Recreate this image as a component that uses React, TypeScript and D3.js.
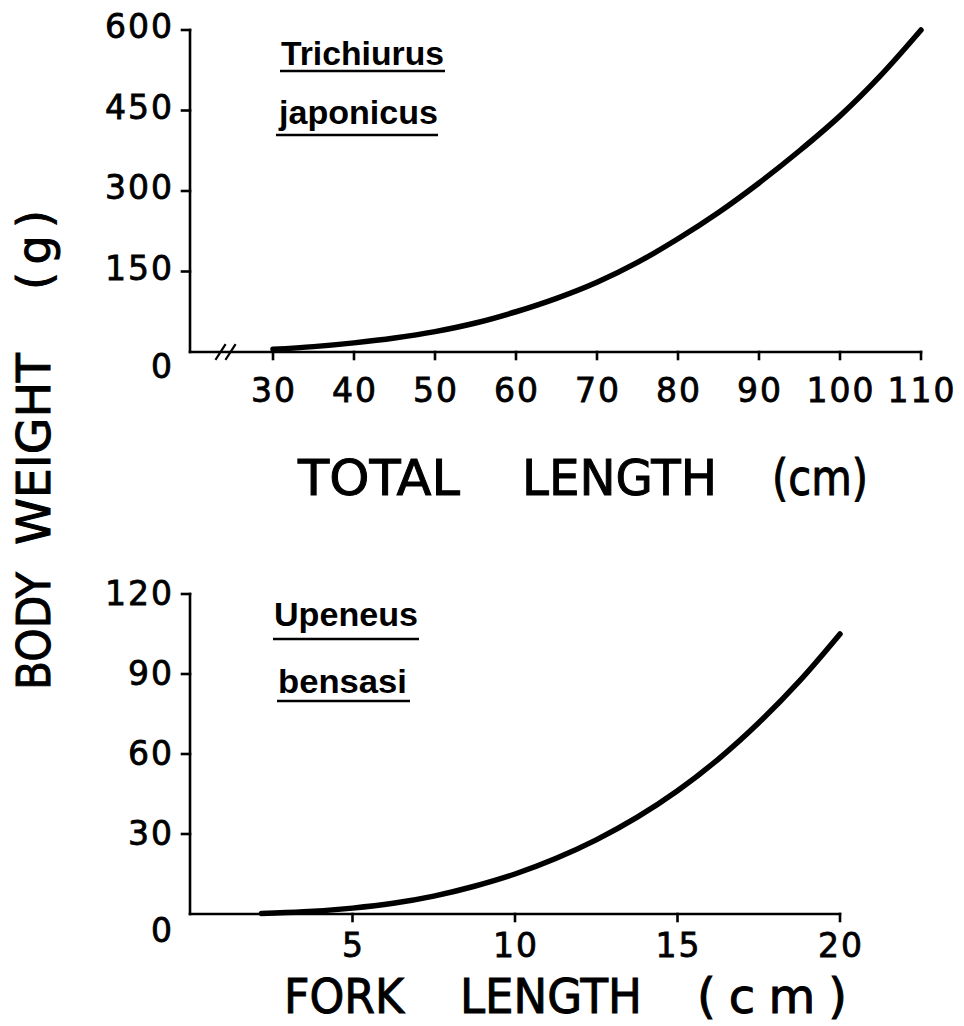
import React from "react";
import * as d3 from "d3";

// Length–weight curves for two fish species
const trichiurusLength = [30, 35, 40, 45, 50, 55, 60, 65, 70, 75, 80, 85, 90, 95, 100, 105, 110];
const trichiurusWeight = [5, 10, 17, 26, 38, 54, 75, 100, 130, 167, 211, 260, 315, 375, 440, 515, 600];

const upeneusLength = [2.2, 3.5, 5, 6.25, 7.5, 8.75, 10, 11.25, 12.5, 13.75, 15, 16.25, 17.5, 18.75, 20];
const upeneusWeight = [0.2, 0.8, 2.2, 4.0, 6.7, 10.4, 15, 20.8, 27.8, 36.2, 46.2, 58, 71.7, 87.3, 105];

const topXTicks = [30, 40, 50, 60, 70, 80, 90, 100, 110];
const topYTicks = [0, 150, 300, 450, 600];
const bottomXTicks = [5, 10, 15, 20];
const bottomYTicks = [0, 30, 60, 90, 120];

const numFont = "'DejaVu Sans', sans-serif";
const labelFont = "'Liberation Sans', Arial, sans-serif";

export default function App() {
  // upper panel scales
  const xTop = d3.scaleLinear().domain([30, 110]).range([273, 921]);
  const yTop = d3.scaleLinear().domain([0, 600]).range([352, 30]);
  // lower panel scales
  const xBot = d3.scaleLinear().domain([0, 20]).range([190, 840]);
  const yBot = d3.scaleLinear().domain([0, 120]).range([914, 594]);

  const topPts = trichiurusLength.map((l, i) => [l, trichiurusWeight[i]] as [number, number]);
  const botPts = upeneusLength.map((l, i) => [l, upeneusWeight[i]] as [number, number]);

  const lineTop = d3
    .line<[number, number]>()
    .x((d) => xTop(d[0]))
    .y((d) => yTop(d[1]))
    .curve(d3.curveCatmullRom.alpha(0.5));
  const lineBot = d3
    .line<[number, number]>()
    .x((d) => xBot(d[0]))
    .y((d) => yBot(d[1]))
    .curve(d3.curveCatmullRom.alpha(0.5));

  const axisX0 = 190;
  const axisW = 2.6;

  return (
    <svg
      width={964}
      height={1026}
      style={{ position: "absolute", left: 0, top: 0, background: "#fff" }}
    >
      <rect width={964} height={1026} fill="#fff" />

      {/* ---------- upper panel ---------- */}
      <g stroke="#000" strokeWidth={axisW} fill="none" strokeLinecap="square">
        <line x1={axisX0} y1={yTop(600)} x2={axisX0} y2={yTop(0)} />
        <line x1={axisX0} y1={yTop(0)} x2={xTop(110)} y2={yTop(0)} />
        {topYTicks.filter((t) => t > 0).map((t) => (
          <line key={t} x1={axisX0 - 8} y1={yTop(t)} x2={axisX0} y2={yTop(t)} />
        ))}
        {topXTicks.map((t) => (
          <line key={t} x1={xTop(t)} y1={yTop(0)} x2={xTop(t)} y2={yTop(0) + 7} />
        ))}
        {/* axis break */}
        <line x1={216} y1={359} x2={225} y2={345} strokeWidth={2.2} />
        <line x1={226} y1={359} x2={235} y2={345} strokeWidth={2.2} />
      </g>
      <path
        d={lineTop(topPts) ?? ""}
        fill="none"
        stroke="#000"
        strokeWidth={5.5}
        strokeLinecap="round"
      />
      <g fontFamily={numFont} fontSize={33} fill="#000" stroke="#000" strokeWidth={0.8} letterSpacing={2}>
        {topYTicks.map((t) => (
          <text
            key={t}
            x={174}
            y={t === 0 ? yTop(t) + 26 : yTop(t) + 8}
            textAnchor="end"
          >
            {t}
          </text>
        ))}
        {topXTicks.map((t) => (
          <text key={t} x={xTop(t) + 1} y={yTop(0) + 50} textAnchor="middle">
            {t}
          </text>
        ))}
      </g>
      <g fontFamily={numFont} fontSize={50} fill="#000" stroke="#000" strokeWidth={1}>
        <text x={298} y={495} textLength={162} lengthAdjust="spacingAndGlyphs">TOTAL</text>
        <text x={522} y={495} textLength={195} lengthAdjust="spacingAndGlyphs">LENGTH</text>
        <text x={772} y={495} textLength={96} lengthAdjust="spacingAndGlyphs">(cm)</text>
      </g>
      <g fontFamily={labelFont} fontWeight="bold" fontSize={34} fill="#000">
        <text x={281} y={65} textLength={163} lengthAdjust="spacingAndGlyphs">Trichiurus</text>
        <text x={279} y={124} textLength={159} lengthAdjust="spacingAndGlyphs">japonicus</text>
        <text x={274} y={626} textLength={144} lengthAdjust="spacingAndGlyphs">Upeneus</text>
        <text x={278} y={693} textLength={129} lengthAdjust="spacingAndGlyphs">bensasi</text>
      </g>
      <g stroke="#000" strokeWidth={2.6}>
        <line x1={280} y1={71} x2={445} y2={71} />
        <line x1={276} y1={135} x2={438} y2={135} />
        <line x1={273} y1={639} x2={419} y2={639} />
        <line x1={277} y1={701} x2={410} y2={701} />
      </g>

      {/* ---------- lower panel ---------- */}
      <g stroke="#000" strokeWidth={axisW} fill="none" strokeLinecap="square">
        <line x1={axisX0} y1={yBot(120)} x2={axisX0} y2={yBot(0)} />
        <line x1={axisX0} y1={yBot(0)} x2={xBot(20)} y2={yBot(0)} />
        {bottomYTicks.filter((t) => t > 0).map((t) => (
          <line key={t} x1={axisX0 - 8} y1={yBot(t)} x2={axisX0} y2={yBot(t)} />
        ))}
        {bottomXTicks.map((t) => (
          <line key={t} x1={xBot(t)} y1={yBot(0)} x2={xBot(t)} y2={yBot(0) + 7} />
        ))}
      </g>
      <path
        d={lineBot(botPts) ?? ""}
        fill="none"
        stroke="#000"
        strokeWidth={5.5}
        strokeLinecap="round"
      />
      <g fontFamily={numFont} fontSize={33} fill="#000" stroke="#000" strokeWidth={0.8} letterSpacing={2}>
        {bottomYTicks.map((t) => (
          <text
            key={t}
            x={174}
            y={t === 0 ? yBot(t) + 28 : yBot(t) + 11}
            textAnchor="end"
          >
            {t}
          </text>
        ))}
        {bottomXTicks.map((t) => (
          <text key={t} x={xBot(t) + 1} y={yBot(0) + 43} textAnchor="middle">
            {t}
          </text>
        ))}
      </g>
      <g fontFamily={numFont} fontSize={48} fill="#000" stroke="#000" strokeWidth={1}>
        <text x={284} y={1013} textLength={120} lengthAdjust="spacingAndGlyphs">FORK</text>
        <text x={460} y={1013} textLength={182} lengthAdjust="spacingAndGlyphs">LENGTH</text>
        <text x={697} y={1013} textLength={150} lengthAdjust="spacing">(cm)</text>
      </g>

      {/* shared y title */}
      <g fontFamily={numFont} fontSize={46} fill="#000" stroke="#000" strokeWidth={1}>
        <text transform="translate(50,690) rotate(-90)" textLength={118} lengthAdjust="spacingAndGlyphs">BODY</text>
        <text transform="translate(50,545) rotate(-90)" textLength={192} lengthAdjust="spacingAndGlyphs">WEIGHT</text>
        <text transform="translate(50,290) rotate(-90)" textLength={80} lengthAdjust="spacing">(g)</text>
      </g>
    </svg>
  );
}
